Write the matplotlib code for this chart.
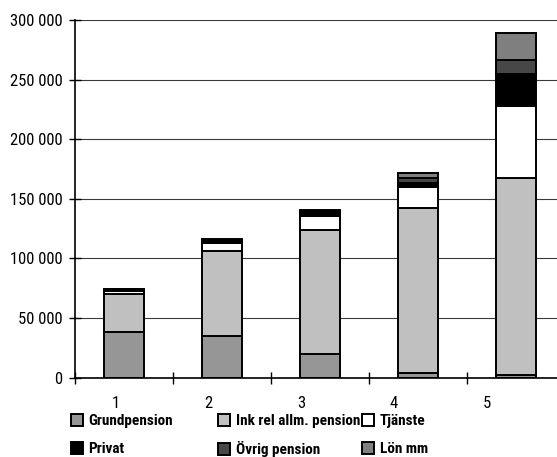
import matplotlib
matplotlib.use("Agg")
import matplotlib.pyplot as plt
from matplotlib import font_manager
from matplotlib.patches import Patch
from matplotlib.ticker import FuncFormatter
import numpy as np

# prefer a narrow face; fall back to Liberation Sans with smaller sizes
installed = {f.name for f in font_manager.fontManager.ttflist}
narrow = [n for n in ("Roboto Condensed", "Liberation Sans Narrow", "DejaVu Sans Condensed")
          if n in installed]
if narrow:
    plt.rcParams['font.family'] = [narrow[0], 'DejaVu Sans']
    tick_size, legend_size = 12, 11
else:
    plt.rcParams['font.family'] = ['Liberation Sans', 'DejaVu Sans']
    tick_size, legend_size = 10, 9.5

categories = ["1", "2", "3", "4", "5"]
series_names = ["Grundpension", "Ink rel allm. pension", "Tjänste",
                "Privat", "Övrig pension", "Lön mm"]
grundpension = [38500, 35000, 20000, 3500, 2000]
ink_rel = [31300, 71000, 103500, 138500, 165000]
tjanste = [3000, 7000, 12000, 18000, 61000]
privat = [700, 1500, 2500, 3500, 26500]
ovrig = [500, 1200, 2000, 4000, 12000]
lon = [300, 500, 500, 4000, 22500]
series = [grundpension, ink_rel, tjanste, privat, ovrig, lon]
colors = ["#969696", "#c0c0c0", "#ffffff", "#000000", "#474747", "#7f7f7f"]
yticks = [0, 50000, 100000, 150000, 200000, 250000, 300000]

W, H = 557, 457
fig = plt.figure(figsize=(W / 100, H / 100), dpi=100)
ax = fig.add_axes([75 / W, 79.5 / H, 490 / W, 357.5 / H])

x = np.arange(len(categories))
bottom = np.zeros(len(categories))
handles = []
for vals, col, name in zip(series, colors, series_names):
    ax.bar(x, vals, bottom=bottom, width=0.41, color=col,
           edgecolor="black", linewidth=1.4, zorder=3)
    bottom += np.array(vals)
    handles.append(Patch(facecolor=col, edgecolor="black", linewidth=1.4, label=name))

ax.set_xlim(-0.5, len(categories) - 0.5)
ax.set_ylim(0, 300000)
ax.set_yticks(yticks)
ax.yaxis.set_major_formatter(FuncFormatter(lambda v, p: f"{int(v):,}".replace(",", " ")))
ax.grid(axis="y", color="#3a3a3a", linewidth=0.8, zorder=0)
for s in ("top", "right"):
    ax.spines[s].set_visible(False)
for s in ("left", "bottom"):
    ax.spines[s].set_linewidth(1.2)
    ax.spines[s].set_zorder(4)

# boundary ticks between categories; labels sit on minor ticks
ax.set_xticks(np.arange(-0.5, len(categories), 1.0))
ax.set_xticklabels([])
label_pos = -0.08 + np.arange(len(categories)) * 0.945
ax.set_xticks(label_pos, minor=True)
ax.set_xticklabels(categories, minor=True)
ax.tick_params(axis="x", which="major", direction="inout", length=8, width=1, color="black")
ax.tick_params(axis="x", which="minor", length=0, pad=13, labelsize=tick_size)
ax.tick_params(axis="y", direction="inout", length=8, width=1, pad=5, labelsize=tick_size)

# legend: a fixed grid of three columns and two rows, one entry per cell
col_x = [71, 218, 362]
row_y = [421, 449]
for i, h in enumerate(handles):
    fig.legend(handles=[h], loc="center left",
               bbox_to_anchor=(col_x[i % 3] / W, 1 - row_y[i // 3] / H), frameon=False,
               prop={"weight": "bold", "size": legend_size}, handlelength=0.8,
               handleheight=0.8, handletextpad=0.35,
               borderpad=0, borderaxespad=0)

fig.savefig("out.png", dpi=100)
